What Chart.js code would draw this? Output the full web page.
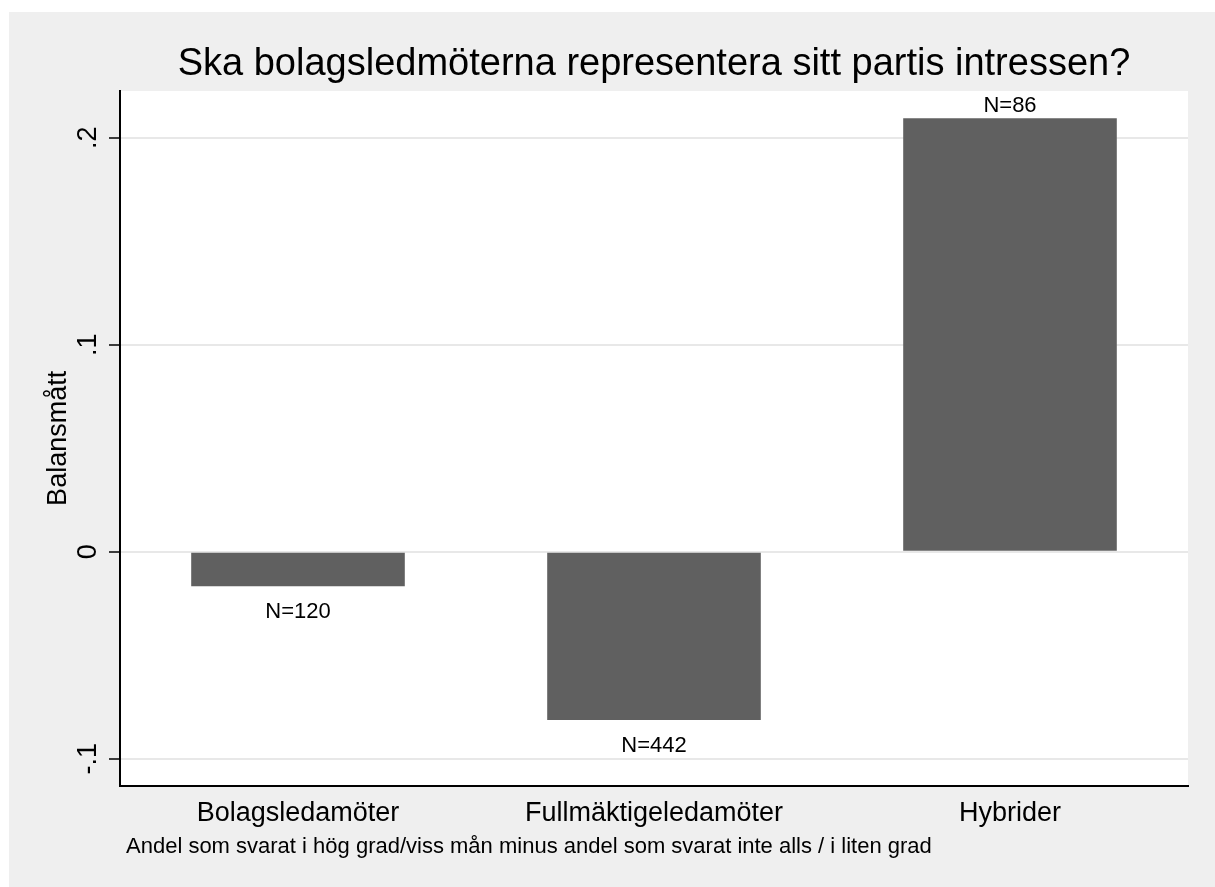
<!DOCTYPE html>
<html>
<head>
<meta charset="utf-8">
<script src="https://cdn.jsdelivr.net/npm/chart.js@4"></script>
<style>
  html, body { margin: 0; padding: 0; background: #fff; overflow: hidden; }
  #frame { position: absolute; left: 9px; top: 12px; width: 1206px; height: 875px; background: #efefef; }
  canvas { display: block; }
</style>
</head>
<body>
<div id="frame"><canvas id="chart" width="1206" height="875"></canvas></div>
<script>
const categories = ['Bolagsledamöter', 'Fullmäktigeledamöter', 'Hybrider'];
const balance = [-0.0166, -0.0813, 0.2094];
const countLabels = ['N=120', 'N=442', 'N=86'];
const yTicks = [-0.1, 0, 0.1, 0.2];
const yTickLabels = ['-.1', '0', '.1', '.2'];
const chartTitle = 'Ska bolagsledmöterna representera sitt partis intressen?';
const yTitle = 'Balansmått';
const note = 'Andel som svarat i hög grad/viss mån minus andel som svarat inte alls / i liten grad';

const FONT = "'Liberation Sans', Arial, sans-serif";

// white plot region on the grey frame
const plotBackground = {
    id: 'plotBackground',
    beforeDraw(chart) {
        const { ctx, chartArea: a } = chart;
        ctx.save();
        ctx.fillStyle = '#fff';
        ctx.fillRect(a.left, a.top, a.right - a.left, a.bottom - a.top);
        ctx.restore();
    }
};

// Stata centres the title over the plot region, not the whole canvas
const centerTitle = {
    id: 'centerTitle',
    afterLayout(chart) {
        const t = chart.titleBlock;
        if (t) {
            t.left = chart.chartArea.left;
            t.right = chart.chartArea.right;
        }
    }
};

// N= labels next to each bar end, plus the footnote
const countLabelPlugin = {
    id: 'countLabels',
    afterDatasetsDraw(chart) {
        const { ctx, chartArea } = chart;
        const meta = chart.getDatasetMeta(0);
        ctx.save();
        ctx.fillStyle = '#000';
        ctx.font = '22px ' + FONT;
        ctx.textAlign = 'center';
        ctx.textBaseline = 'alphabetic';
        meta.data.forEach((bar, i) => {
            const y = balance[i] < 0 ? bar.y + 32 : bar.y - 6;
            ctx.fillText(countLabels[i], bar.x, y);
        });
        ctx.font = '22px ' + FONT;
        ctx.textAlign = 'left';
        ctx.fillText(note, chartArea.left + 6, chartArea.bottom + 67);
        ctx.restore();
    }
};

const ctx = document.getElementById('chart');
new Chart(ctx, {
    type: 'bar',
    data: {
        labels: categories,
        datasets: [{
            data: balance,
            backgroundColor: '#606060',
            borderWidth: 0,
            categoryPercentage: 0.6,
            barPercentage: 1
        }]
    },
    options: {
        responsive: false,
        animation: false,
        events: [],
        layout: { padding: { right: 27 } },
        plugins: {
            legend: { display: false },
            tooltip: { enabled: false },
            title: {
                display: true,
                text: chartTitle,
                color: '#000',
                font: { size: 38, family: FONT, weight: 'normal' },
                padding: { top: 30, bottom: 3.4 }
            }
        },
        scales: {
            x: {
                grid: { display: false, drawTicks: false },
                border: { display: true, color: '#000', width: 2 },
                ticks: {
                    color: '#000',
                    padding: 12,
                    maxRotation: 0,
                    autoSkip: false,
                    font: { size: 27, family: FONT }
                },
                afterFit(scale) { scale.height = 101.3; }
            },
            y: {
                min: -0.113,
                max: 0.2226,
                afterBuildTicks(scale) {
                    scale.ticks = yTicks.map(v => ({ value: v }));
                },
                afterFit(scale) { scale.width = 111; },
                grid: {
                    color: '#e8e8e8',
                    lineWidth: 2,
                    drawTicks: true,
                    tickLength: 11,
                    tickColor: '#000',
                    tickWidth: 1.5
                },
                border: { display: true, color: '#000', width: 2 },
                ticks: {
                    color: '#000',
                    minRotation: 90,
                    maxRotation: 90,
                    crossAlign: 'center',
                    padding: 5,
                    font: { size: 27, family: FONT },
                    callback: (v, i) => yTickLabels[i]
                },
                title: {
                    display: true,
                    text: yTitle,
                    color: '#000',
                    font: { size: 27, family: FONT },
                    padding: { top: 33, bottom: 0 }
                }
            }
        }
    },
    plugins: [plotBackground, centerTitle, countLabelPlugin]
});
</script>
</body>
</html>
